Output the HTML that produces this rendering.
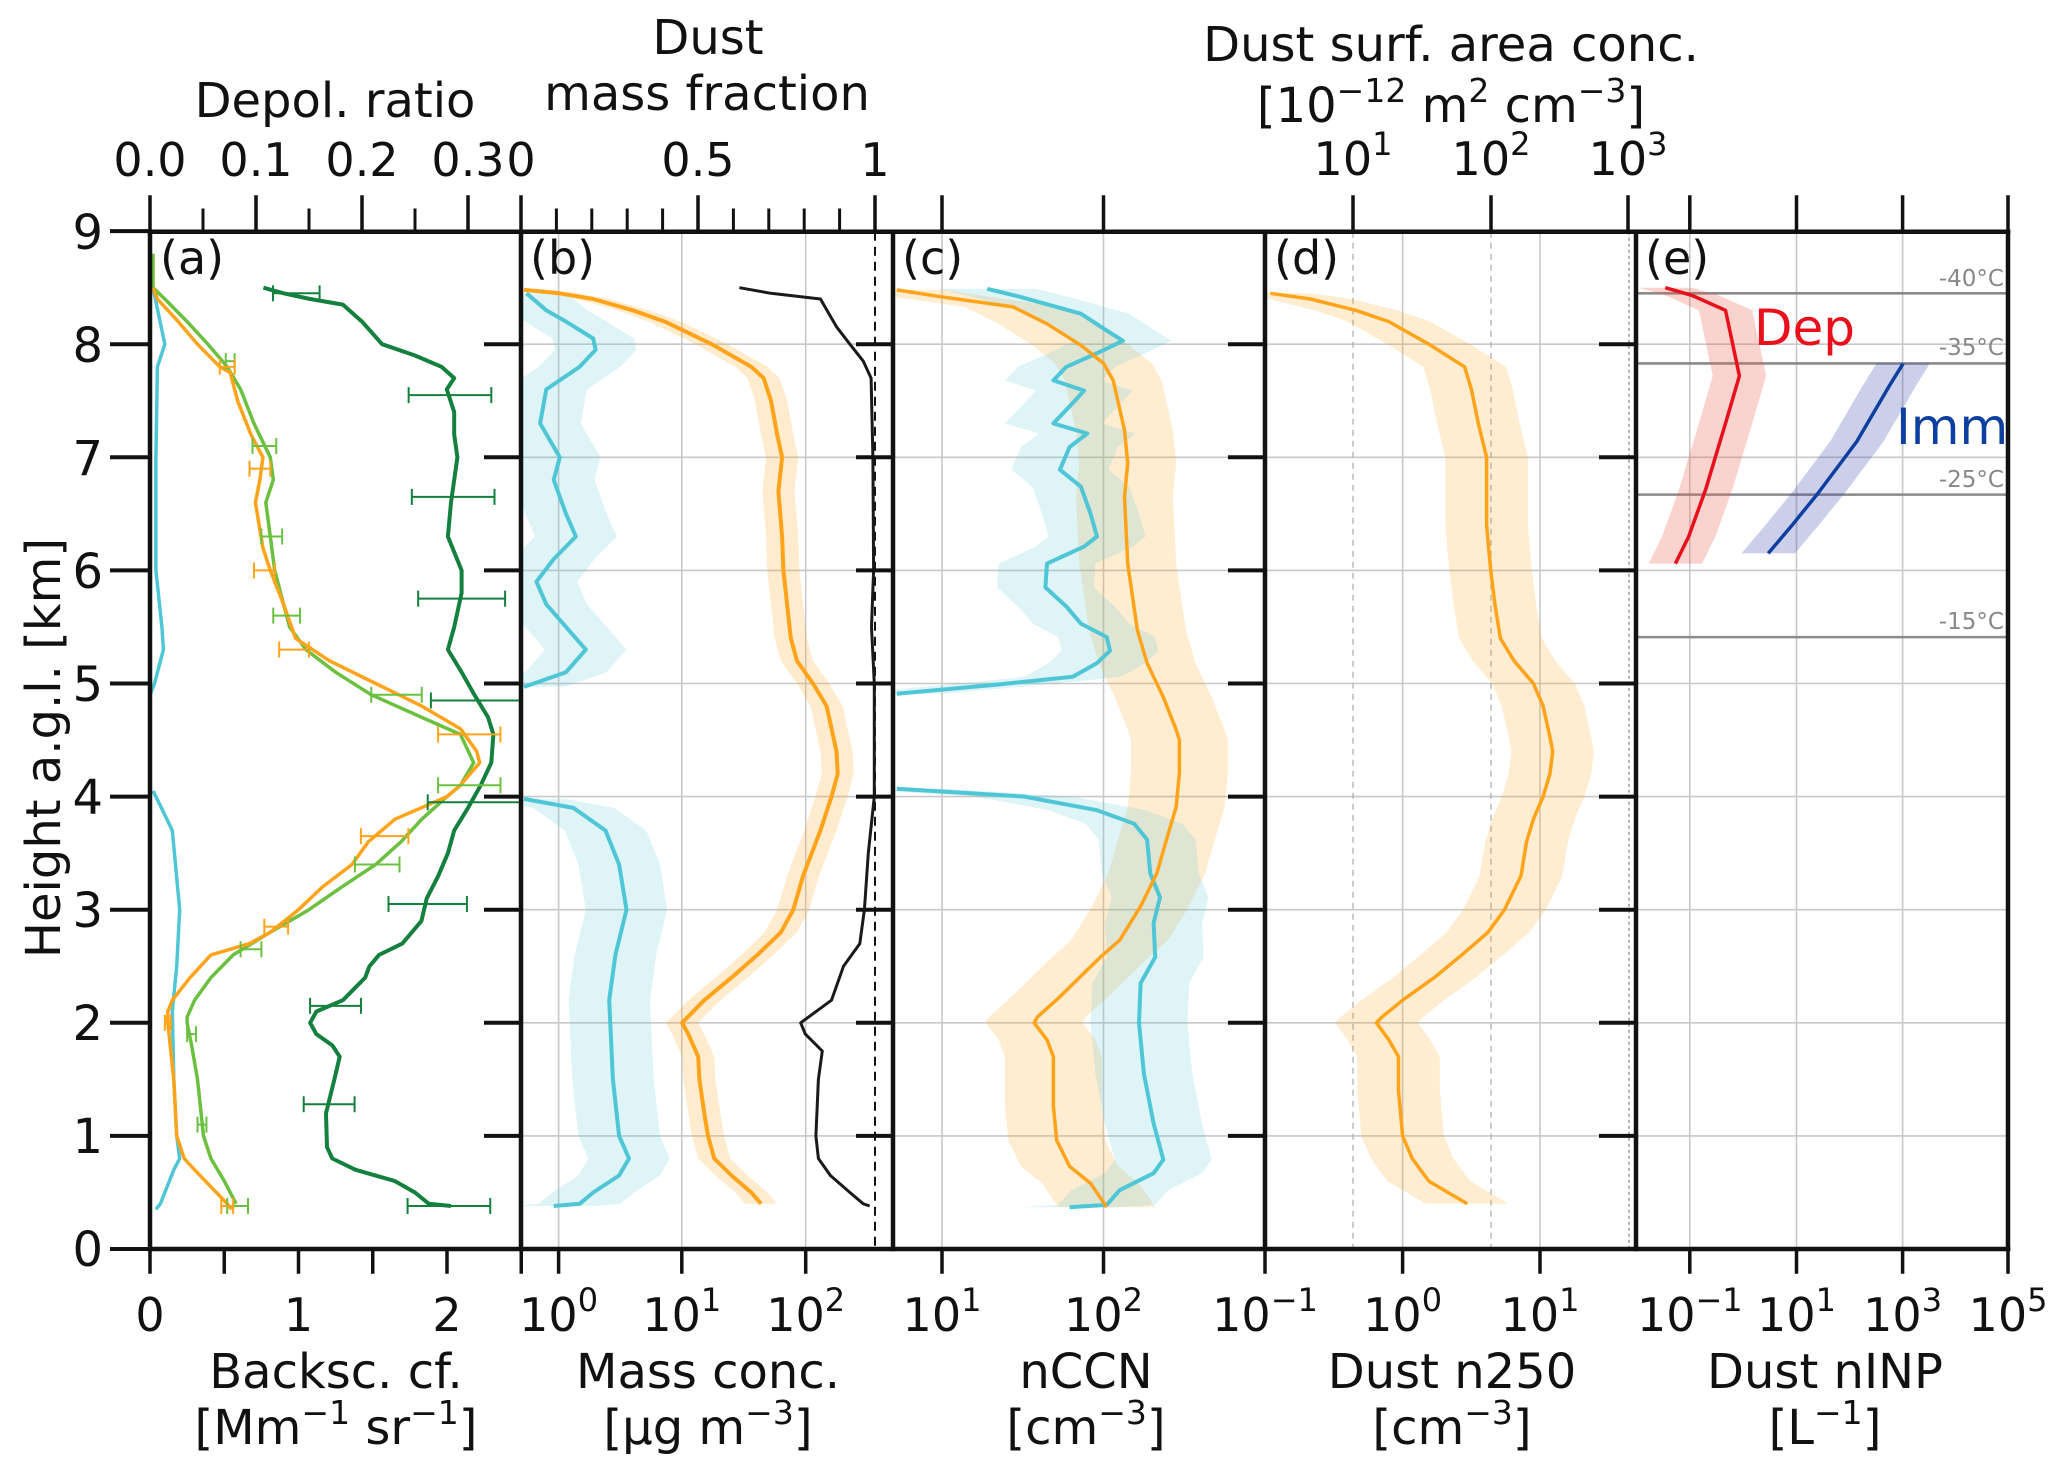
<!DOCTYPE html>
<html><head><meta charset="utf-8"><style>
html,body{margin:0;padding:0;background:#fff;}
svg{display:block;font-family:"DejaVu Sans","Liberation Sans",sans-serif;}
</style></head><body>
<svg id="chart" width="2067" height="1474" viewBox="0 0 2067 1474" xmlns="http://www.w3.org/2000/svg">
<defs>
<clipPath id="cpA"><rect x="150" y="231.7" width="371" height="1017.3"/></clipPath>
<clipPath id="cpB"><rect x="521" y="231.7" width="372" height="1017.3"/></clipPath>
<clipPath id="cpC"><rect x="893" y="231.7" width="372" height="1017.3"/></clipPath>
<clipPath id="cpD"><rect x="1265" y="231.7" width="371" height="1017.3"/></clipPath>
<clipPath id="cpE"><rect x="1636" y="231.7" width="372" height="1017.3"/></clipPath>
</defs>
<rect x="0" y="0" width="2067" height="1474" fill="#fff"/>
<g id="grid"></g>
<g id="marks"></g>
<g id="axes"></g>

<g font-size="48" fill="#111">
  <text x="335" y="117" text-anchor="middle">Depol. ratio</text>
  <text x="708" y="54" text-anchor="middle">Dust</text>
  <text x="707" y="110" text-anchor="middle">mass fraction</text>
  <text x="1451" y="61" text-anchor="middle">Dust surf. area conc.</text>
  <text x="1451" y="122" text-anchor="middle">[10<tspan dy="-20" font-size="33">−12</tspan><tspan dy="20"> m</tspan><tspan dy="-20" font-size="33">2</tspan><tspan dy="20"> cm</tspan><tspan dy="-20" font-size="33">−3</tspan><tspan dy="20">]</tspan></text>
  <text transform="translate(60,748) rotate(-90)" text-anchor="middle">Height a.g.l. [km]</text>
  <text x="336" y="1388" text-anchor="middle">Backsc. cf.</text>
  <text x="336" y="1444" text-anchor="middle">[Mm<tspan dy="-20" font-size="33">−1</tspan><tspan dy="20"> sr</tspan><tspan dy="-20" font-size="33">−1</tspan><tspan dy="20">]</tspan></text>
  <text x="708" y="1388" text-anchor="middle">Mass conc.</text>
  <text x="708" y="1444" text-anchor="middle">[µg m<tspan dy="-20" font-size="33">−3</tspan><tspan dy="20">]</tspan></text>
  <text x="1086" y="1388" text-anchor="middle">nCCN</text>
  <text x="1086" y="1444" text-anchor="middle">[cm<tspan dy="-20" font-size="33">−3</tspan><tspan dy="20">]</tspan></text>
  <text x="1452" y="1388" text-anchor="middle">Dust n250</text>
  <text x="1452" y="1444" text-anchor="middle">[cm<tspan dy="-20" font-size="33">−3</tspan><tspan dy="20">]</tspan></text>
  <text x="1825" y="1388" text-anchor="middle">Dust nINP</text>
  <text x="1825" y="1444" text-anchor="middle">[L<tspan dy="-20" font-size="33">−1</tspan><tspan dy="20">]</tspan></text>
</g>

<g font-size="46" fill="#111">
  <text x="150" y="176" text-anchor="middle">0.0</text>
  <text x="256" y="176" text-anchor="middle">0.1</text>
  <text x="362" y="176" text-anchor="middle">0.2</text>
  <text x="468" y="176" text-anchor="middle">0.3</text>
  <text x="521" y="176" text-anchor="middle">0</text>
  <text x="698" y="176" text-anchor="middle">0.5</text>
  <text x="875" y="176" text-anchor="middle">1</text>
  <text x="1353" y="175" text-anchor="middle">10<tspan dy="-20" font-size="32">1</tspan></text>
  <text x="1491" y="175" text-anchor="middle">10<tspan dy="-20" font-size="32">2</tspan></text>
  <text x="1628" y="175" text-anchor="middle">10<tspan dy="-20" font-size="32">3</tspan></text>
</g>

<g font-size="46" fill="#111">
  <text x="150" y="1331" text-anchor="middle">0</text>
  <text x="298.5" y="1331" text-anchor="middle">1</text>
  <text x="447" y="1331" text-anchor="middle">2</text>
  <text x="558.6" y="1331" text-anchor="middle">10<tspan dy="-20" font-size="32">0</tspan></text>
  <text x="681.8" y="1331" text-anchor="middle">10<tspan dy="-20" font-size="32">1</tspan></text>
  <text x="805.7" y="1331" text-anchor="middle">10<tspan dy="-20" font-size="32">2</tspan></text>
  <text x="942" y="1331" text-anchor="middle">10<tspan dy="-20" font-size="32">1</tspan></text>
  <text x="1103.5" y="1331" text-anchor="middle">10<tspan dy="-20" font-size="32">2</tspan></text>
  <text x="1265" y="1331" text-anchor="middle">10<tspan dy="-20" font-size="32">−1</tspan></text>
  <text x="1402.6" y="1331" text-anchor="middle">10<tspan dy="-20" font-size="32">0</tspan></text>
  <text x="1540" y="1331" text-anchor="middle">10<tspan dy="-20" font-size="32">1</tspan></text>
  <text x="1689.8" y="1331" text-anchor="middle">10<tspan dy="-20" font-size="32">−1</tspan></text>
  <text x="1796.5" y="1331" text-anchor="middle">10<tspan dy="-20" font-size="32">1</tspan></text>
  <text x="1902.6" y="1331" text-anchor="middle">10<tspan dy="-20" font-size="32">3</tspan></text>
  <text x="2008" y="1331" text-anchor="middle">10<tspan dy="-20" font-size="32">5</tspan></text>
</g>

<g font-size="48" fill="#111" text-anchor="end">
  <text x="103" y="1266">0</text><text x="103" y="1153">1</text><text x="103" y="1040">2</text>
  <text x="103" y="927">3</text><text x="103" y="814">4</text><text x="103" y="701">5</text>
  <text x="103" y="588">6</text><text x="103" y="475">7</text><text x="103" y="362">8</text>
  <text x="103" y="249">9</text>
</g>

<g font-size="46" fill="#111">
  <text x="160" y="274">(a)</text>
  <text x="530" y="274">(b)</text>
  <text x="902" y="274">(c)</text>
  <text x="1274" y="274">(d)</text>
  <text x="1645" y="274">(e)</text>
</g>

<g>
  <text x="1754" y="345" font-size="50" fill="#e8101a">Dep</text>
  <text x="1896" y="444" font-size="50" fill="#0d3fa0">Imm</text>
  <g font-size="23" fill="#888" text-anchor="end">
    <text x="2004" y="286">-40°C</text>
    <text x="2004" y="355">-35°C</text>
    <text x="2004" y="487">-25°C</text>
    <text x="2004" y="629">-15°C</text>
  </g>
</g>

<script>
// ---------- data ----------
// Panel (a): backscatter coefficients [Mm-1 sr-1] (bottom axis)
const aOrangeH = [8.5,8.4,8.2,8.0,7.8,7.75,7.5,7.2,7.0,6.8,6.6,6.2,6.0,5.7,5.4,5.2,5.0,4.8,4.6,4.4,4.3,4.1,4.0,3.8,3.6,3.4,3.2,3.0,2.8,2.7,2.6,2.4,2.2,2.1,2.0,1.5,1.0,0.8,0.7,0.55,0.4,0.35];
const aOrangeV = [0.02,0.05,0.19,0.32,0.47,0.54,0.59,0.68,0.76,0.74,0.71,0.76,0.81,0.9,0.98,1.21,1.52,1.83,2.09,2.2,2.22,2.09,2.0,1.65,1.47,1.36,1.16,1.0,0.81,0.67,0.41,0.27,0.15,0.12,0.12,0.16,0.18,0.23,0.3,0.41,0.52,0.55];
const aGreenH = [8.8,8.5,8.4,8.2,8.0,7.8,7.6,7.3,7.0,6.8,6.6,6.3,6.0,5.7,5.5,5.3,5.1,4.9,4.7,4.55,4.3,4.1,4.0,3.8,3.6,3.4,3.2,3.0,2.8,2.6,2.4,2.2,2.05,2.0,1.8,1.5,1.0,0.8,0.6,0.4];
const aGreenV = [0.02,0.02,0.1,0.25,0.39,0.52,0.61,0.7,0.81,0.83,0.78,0.81,0.84,0.9,0.94,1.05,1.25,1.49,1.83,2.09,2.18,2.09,2.0,1.83,1.69,1.52,1.29,1.07,0.81,0.56,0.41,0.3,0.25,0.25,0.28,0.32,0.36,0.41,0.5,0.58];
const aCyanUpH = [8.5,8.0,7.8,7.0,6.0,5.5,5.3,5.0,4.9];
const aCyanUpV = [0.02,0.1,0.05,0.04,0.04,0.08,0.09,0.03,0.0];
const aCyanLoH = [4.05,4.0,3.7,3.0,2.5,2.1,1.5,1.0,0.8,0.7,0.5,0.4,0.35];
const aCyanLoV = [0.02,0.04,0.15,0.2,0.18,0.15,0.16,0.18,0.2,0.16,0.1,0.07,0.04];
// Panel (a): depolarization ratio (top axis)
const depolH = [8.5,8.45,8.4,8.35,8.2,8.0,7.9,7.8,7.7,7.6,7.4,7.2,7.0,6.8,6.6,6.3,6.0,5.8,5.5,5.3,5.1,4.9,4.7,4.55,4.3,4.1,3.9,3.7,3.5,3.3,3.1,2.9,2.7,2.6,2.5,2.4,2.2,2.1,2.0,1.9,1.8,1.7,1.5,1.2,0.9,0.8,0.7,0.6,0.5,0.4,0.38];
const depolV = [0.107,0.126,0.151,0.182,0.2,0.219,0.25,0.275,0.287,0.28,0.287,0.287,0.29,0.287,0.284,0.281,0.294,0.294,0.287,0.281,0.294,0.306,0.319,0.324,0.322,0.312,0.3,0.287,0.281,0.272,0.261,0.256,0.238,0.216,0.207,0.203,0.182,0.157,0.151,0.157,0.172,0.179,0.174,0.166,0.167,0.172,0.194,0.231,0.25,0.263,0.284];
// error bars: height, centre, half-width
const errOrangeH = [7.8,6.9,6.0,5.3,4.55,3.65,2.85,2.0,0.38];
const errOrangeC = [0.52,0.74,0.77,0.97,2.15,1.58,0.85,0.12,0.52];
const errOrangeW = [0.05,0.07,0.07,0.1,0.21,0.16,0.08,0.02,0.04];
const errGreenH = [7.85,7.1,6.3,5.6,4.9,4.1,3.4,2.65,1.9,1.1,0.38];
const errGreenC = [0.54,0.77,0.82,0.92,1.66,2.15,1.53,0.68,0.28,0.35,0.59];
const errGreenW = [0.03,0.08,0.07,0.09,0.17,0.21,0.15,0.07,0.03,0.03,0.07];
const errDepolH = [8.45,7.55,6.65,5.75,4.85,3.95,3.05,2.15,1.28,0.38];
const errDepolC = [0.138,0.283,0.286,0.294,0.307,0.306,0.262,0.175,0.169,0.282];
const errDepolW = [0.022,0.039,0.039,0.041,0.042,0.044,0.037,0.024,0.024,0.039];
// Panel (b): mass concentration, log10(ug m-3)
const bOrangeH = [8.48,8.45,8.4,8.3,8.2,8.0,7.8,7.7,7.5,7.2,7.0,6.7,6.3,6.0,5.7,5.4,5.2,5.0,4.8,4.55,4.4,4.2,4.0,3.7,3.3,3.0,2.8,2.6,2.4,2.2,2.0,1.9,1.7,1.5,1.2,1.0,0.8,0.65,0.5,0.4];
const bOrangeLog = [-0.28,0.01,0.28,0.6,0.86,1.24,1.56,1.66,1.72,1.77,1.81,1.78,1.81,1.82,1.85,1.88,1.93,2.06,2.17,2.22,2.25,2.26,2.21,2.12,1.98,1.9,1.8,1.61,1.4,1.18,1.0,1.05,1.13,1.14,1.18,1.21,1.26,1.4,1.56,1.64];
const bCyanUpH = [8.45,8.3,8.2,8.05,7.95,7.8,7.6,7.3,7.0,6.8,6.5,6.3,6.1,5.9,5.7,5.5,5.3,5.1,5.0,4.97];
const bCyanUpLog = [-0.26,-0.1,0.06,0.28,0.3,0.17,-0.1,-0.15,0.01,-0.04,0.06,0.14,-0.04,-0.18,-0.1,0.06,0.22,0.06,-0.2,-0.28];
const bCyanLoH = [3.98,3.9,3.7,3.4,3.0,2.6,2.2,1.5,1.0,0.8,0.65,0.5,0.4,0.38];
const bCyanLoLog = [-0.28,0.12,0.38,0.49,0.55,0.46,0.41,0.44,0.49,0.57,0.49,0.28,0.17,-0.04];
const bOrangeBand = 0.13, bCyanBand = 0.33;
// Panel (b): dust mass fraction (top axis)
const fracH = [8.5,8.45,8.4,8.3,8.15,8.0,7.85,7.7,7.0,6.0,5.5,5.0,4.0,3.5,3.0,2.7,2.5,2.2,2.0,1.9,1.75,1.5,1.0,0.8,0.65,0.5,0.4,0.38];
const fracV = [0.617,0.706,0.846,0.864,0.892,0.929,0.967,0.989,0.994,0.996,0.99,0.998,0.998,0.981,0.97,0.957,0.911,0.877,0.79,0.803,0.851,0.84,0.833,0.84,0.874,0.929,0.967,0.985];
// Panel (c): nCCN log10(cm-3)
const cOrangeH = [8.48,8.42,8.33,8.18,7.99,7.83,7.68,7.24,6.95,6.65,6.06,5.47,5.18,4.88,4.59,4.5,4.21,3.91,3.62,3.32,3.03,2.73,2.58,2.44,2.23,2.05,2.0,1.85,1.7,1.26,0.96,0.73,0.58,0.37];
const cOrangeLog = [0.72,0.99,1.44,1.65,1.86,2.0,2.06,2.13,2.15,2.13,2.15,2.21,2.27,2.37,2.45,2.47,2.47,2.45,2.39,2.33,2.23,2.1,1.98,1.88,1.73,1.59,1.57,1.65,1.69,1.69,1.71,1.79,1.92,2.02];
const cCyanUpH = [8.49,8.42,8.27,8.12,8.03,7.92,7.80,7.68,7.59,7.48,7.3,7.21,7.09,6.89,6.74,6.5,6.3,6.21,6.06,5.85,5.68,5.53,5.41,5.29,5.18,5.06,4.99,4.91];
const cCyanUpLog = [1.28,1.48,1.86,2.02,2.12,1.96,1.77,1.69,1.88,1.81,1.69,1.9,1.79,1.73,1.86,1.92,1.96,1.88,1.65,1.64,1.77,1.86,2.02,2.04,1.96,1.81,1.34,0.72];
const cCyanLoH = [4.07,4.0,3.88,3.76,3.62,3.32,3.11,2.88,2.58,2.35,2.0,1.55,1.11,0.79,0.67,0.52,0.39,0.37];
const cCyanLoLog = [0.72,1.51,1.96,2.19,2.27,2.29,2.35,2.31,2.32,2.23,2.22,2.25,2.31,2.37,2.31,2.1,2.02,1.79];
const cBand = 0.3;
// Panel (d): dust n250 log10(cm-3)
const dOrangeH = [8.45,8.4,8.3,8.2,8.0,7.8,7.6,7.3,7.0,6.7,6.4,6.0,5.7,5.4,5.2,5.0,4.8,4.53,4.4,4.2,4.0,3.8,3.6,3.3,3.0,2.8,2.6,2.4,2.2,2.05,2.0,1.85,1.7,1.4,1.0,0.8,0.6,0.5,0.4];
const dOrangeLog = [-0.96,-0.67,-0.34,-0.1,0.19,0.45,0.5,0.55,0.61,0.61,0.61,0.64,0.67,0.71,0.81,0.95,1.02,1.07,1.09,1.07,1.02,0.95,0.9,0.86,0.74,0.62,0.43,0.23,0.0,-0.15,-0.19,-0.1,-0.03,-0.03,0.0,0.07,0.19,0.33,0.47];
const dBand = 0.3;
// Panel (e): dust nINP log10(L-1)
const depH = [8.5,8.43,8.3,7.72,7.3,6.72,6.3,6.06];
const depLog = [-1.46,-0.95,-0.33,-0.07,-0.33,-0.7,-1.02,-1.27];
const immH = [7.83,7.64,7.14,6.68,6.39,6.15];
const immLog = [3.0,2.75,2.13,1.4,0.9,0.47];
const eBand = 0.5;
const tempH = [8.45,7.83,6.67,5.41];

// ---------- scales ----------
const NS = "http://www.w3.org/2000/svg";
const Y = h => 1249 - 113.1 * h;
const XA = v => 150 + 148.5 * v;
const XAT = d => 150 + 1060 * d;
const XB = l => 558.6 + 123.5 * l;
const XBT = f => 521 + 354 * f;
const XC = l => 942 + 161.5 * (l - 1);
const XD = l => 1402.6 + 137.7 * l;
const XE = l => 1689.8 + 53.35 * (l + 1);

const grid = document.getElementById('grid');
const marks = document.getElementById('marks');
const axes = document.getElementById('axes');

function mk(tag, attrs, parent) {
  const el = document.createElementNS(NS, tag);
  for (const k in attrs) el.setAttribute(k, attrs[k]);
  parent.appendChild(el);
  return el;
}
function pts(hs, vs, fx, off) {
  return hs.map((h, i) => fx(vs[i] + (off || 0)).toFixed(1) + ',' + Y(h).toFixed(1)).join(' ');
}
function line(hs, vs, fx, color, w, clip, name) {
  const el = mk('polyline', {points: pts(hs, vs, fx), fill: 'none', stroke: color, 'stroke-width': w, 'stroke-linejoin': 'round', 'clip-path': 'url(#' + clip + ')'}, marks);
  
  
  return el;
}
function band(hs, vs, fx, wd, color, op, clip, name) {
  const up = hs.map((h, i) => fx(vs[i] + wd).toFixed(1) + ',' + Y(h).toFixed(1));
  const lo = hs.map((h, i) => fx(vs[i] - wd).toFixed(1) + ',' + Y(h).toFixed(1)).reverse();
  const el = mk('polygon', {points: up.concat(lo).join(' '), fill: color, 'fill-opacity': op, stroke: 'none', 'clip-path': 'url(#' + clip + ')'}, marks);
  
  
}
function errbars(hs, cs, ws, fx, color, name) {
  hs.forEach((h, i) => {
    const g = mk('g', {stroke: color, 'stroke-width': 2, 'clip-path': 'url(#cpA)'}, marks);
    
    
    const x1 = fx(cs[i] - ws[i]), x2 = fx(cs[i] + ws[i]), y = Y(h);
    mk('line', {x1: x1, x2: x2, y1: y, y2: y}, g);
    mk('line', {x1: x1, x2: x1, y1: y - 8, y2: y + 8}, g);
    mk('line', {x1: x2, x2: x2, y1: y - 8, y2: y + 8}, g);
  });
}

// ---------- grid ----------
const gridCol = '#c8c8c8';
for (let k = 1; k <= 8; k++) {
  const g = mk('line', {x1: 521, x2: 2008, y1: Y(k), y2: Y(k), stroke: gridCol, 'stroke-width': 1.6}, grid);
  
  
}
[558.6, 681.8, 805.7, 942, 1103.5, 1402.6, 1540, 1689.8, 1796.5, 1902.6].forEach(x => {
  const g = mk('line', {x1: x, x2: x, y1: 231.7, y2: 1249, stroke: gridCol, 'stroke-width': 1.6}, grid);
  
  
});
[1353, 1491].forEach(x => {
  const g = mk('line', {x1: x, x2: x, y1: 231.7, y2: 1249, stroke: '#b0b0b0', 'stroke-width': 1.3, 'stroke-dasharray': '6,5'}, grid);
  
  
});
{
  const g = mk('line', {x1: 1629, x2: 1629, y1: 231.7, y2: 1249, stroke: '#999', 'stroke-width': 1.5, 'stroke-dasharray': '3,3'}, grid);
  
  
}
tempH.forEach(h => {
  const g = mk('line', {x1: 1636, x2: 2008, y1: Y(h), y2: Y(h), stroke: '#8a8a8a', 'stroke-width': 2.6}, grid);
  
  
});
{
  const g = mk('line', {x1: XBT(1), x2: XBT(1), y1: 231.7, y2: 1249, stroke: '#111', 'stroke-width': 2, 'stroke-dasharray': '9,6'}, grid);
  
  
}

// ---------- marks ----------
const OR = '#ffa31a', CY = '#4fc6d6';
// (b)
band(bCyanUpH, bCyanUpLog, XB, bCyanBand, '#5bc8d8', 0.2, 'cpB', 'b-cyan-band-upper');
band(bCyanLoH, bCyanLoLog, XB, bCyanBand, '#5bc8d8', 0.2, 'cpB', 'b-cyan-band-lower');
band(bOrangeH, bOrangeLog, XB, bOrangeBand, '#ffa31a', 0.22, 'cpB', 'b-orange-band');
// (c)
band(cOrangeH, cOrangeLog, XC, cBand, '#ffa31a', 0.2, 'cpC', 'c-orange-band');
band(cCyanUpH, cCyanUpLog, XC, cBand, '#5bc8d8', 0.2, 'cpC', 'c-cyan-band-upper');
band(cCyanLoH, cCyanLoLog, XC, cBand, '#5bc8d8', 0.2, 'cpC', 'c-cyan-band-lower');
// (d)
band(dOrangeH, dOrangeLog, XD, dBand, '#ffa31a', 0.2, 'cpD', 'd-orange-band');
// (e)
band(depH, depLog, XE, eBand, '#f06050', 0.28, 'cpE', 'dep-band');
band(immH, immLog, XE, eBand, '#3040a8', 0.25, 'cpE', 'imm-band');

// (a) lines
line(aCyanUpH, aCyanUpV, XA, CY, 3.5, 'cpA', 'a-cyan-line-upper');
line(aCyanLoH, aCyanLoV, XA, CY, 3.5, 'cpA', 'a-cyan-line-lower');
line(depolH, depolV, XAT, '#13803e', 4, 'cpA', 'depol-ratio-line');
line(aGreenH, aGreenV, XA, '#6cc040', 3.5, 'cpA', 'a-lightgreen-line');
line(aOrangeH, aOrangeV, XA, OR, 3.5, 'cpA', 'a-orange-line');
errbars(errDepolH, errDepolC, errDepolW, XAT, '#13803e', 'depol-errorbar');
errbars(errGreenH, errGreenC, errGreenW, XA, '#6cc040', 'lightgreen-errorbar');
errbars(errOrangeH, errOrangeC, errOrangeW, XA, OR, 'orange-errorbar');
// (b) lines
line(bCyanUpH, bCyanUpLog, XB, CY, 4, 'cpB', 'b-cyan-line-upper');
line(bCyanLoH, bCyanLoLog, XB, CY, 4, 'cpB', 'b-cyan-line-lower');
line(bOrangeH, bOrangeLog, XB, OR, 4, 'cpB', 'b-orange-line');
line(fracH, fracV, XBT, '#1a1a1a', 3, 'cpB', 'mass-fraction-line');
// (c) lines
line(cCyanUpH, cCyanUpLog, XC, CY, 4, 'cpC', 'c-cyan-line-upper');
line(cCyanLoH, cCyanLoLog, XC, CY, 4, 'cpC', 'c-cyan-line-lower');
line(cOrangeH, cOrangeLog, XC, OR, 3.5, 'cpC', 'c-orange-line');
// (d)
line(dOrangeH, dOrangeLog, XD, OR, 3.5, 'cpD', 'd-orange-line');
// (e)
line(depH, depLog, XE, '#e8101a', 3.5, 'cpE', 'dep-line');
line(immH, immLog, XE, '#0d3fa0', 3.5, 'cpE', 'imm-line');

// ---------- axes ----------
const AX = '#111';
function ax(x1, y1, x2, y2, w, name) {
  const el = mk('line', {x1: x1, y1: y1, x2: x2, y2: y2, stroke: AX, 'stroke-width': w, 'stroke-linecap': 'square'}, axes);
  
  
}
ax(150, 231.7, 2008, 231.7, 4.5, 'top-axis-line');
ax(150, 1249, 2008, 1249, 4.5, 'bottom-axis-line');
[150, 521, 893, 1265, 1636, 2008].forEach(x => ax(x, 231.7, x, 1249, 4.5, 'panel-border'));
for (let k = 0; k <= 9; k++) ax(112, Y(k), 150, Y(k), 4, 'y-tick');
[521, 893, 1265, 1636].forEach(x => { for (let k = 1; k <= 8; k++) ax(x - 35, Y(k), x, Y(k), 4, 'panel-y-tick'); });
// top ticks
[0, 0.1, 0.2, 0.3].forEach(d => ax(XAT(d), 197, XAT(d), 231.7, 3.5, 'depol-top-tick'));
[0.05, 0.15, 0.25].forEach(d => ax(XAT(d), 210, XAT(d), 231.7, 3, 'depol-minor-tick'));
[0, 0.5, 1].forEach(f => ax(XBT(f), 197, XBT(f), 231.7, 3.5, 'fraction-top-tick'));
[0.1, 0.2, 0.3, 0.4, 0.6, 0.7, 0.8, 0.9].forEach(f => ax(XBT(f), 210, XBT(f), 231.7, 3, 'fraction-minor-tick'));
[942, 1103.5, 1353, 1491, 1628, 1689.8, 1796.5, 1902.6, 2008].forEach(x => ax(x, 197, x, 231.7, 3.5, 'top-tick'));
// bottom ticks
[0, 0.5, 1, 1.5, 2, 2.5].forEach(v => ax(XA(v), 1249, XA(v), 1272, 3.5, 'backsc-bottom-tick'));
[558.6, 681.8, 805.7, 942, 1103.5, 1265, 1402.6, 1540, 1689.8, 1796.5, 1902.6, 2008].forEach(x => ax(x, 1249, x, 1272, 3.5, 'bottom-tick'));
</script>
</svg>
</body></html>
